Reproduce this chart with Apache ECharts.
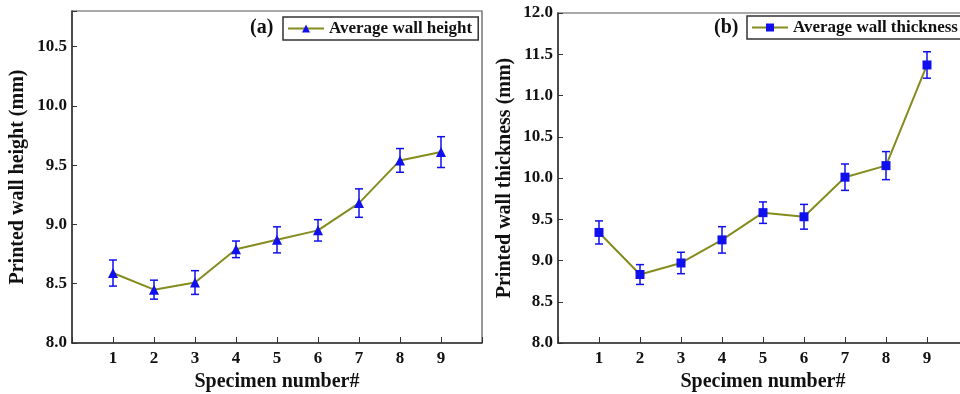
<!DOCTYPE html>
<html>
<head>
<meta charset="utf-8">
<style>
  html, body { margin: 0; padding: 0; background: #fff; }
  #chart { width: 960px; height: 394px; }
</style>
<script src="https://cdn.jsdelivr.net/npm/echarts@6/dist/echarts.min.js"></script>
</head>
<body>
<div id="chart"></div>
<script>
// specimen numbers and measured values (mean, +/- error)
const specimens = [1, 2, 3, 4, 5, 6, 7, 8, 9];
const heightMean = [8.59, 8.45, 8.51, 8.79, 8.87, 8.95, 9.18, 9.54, 9.61];
const heightErr = [0.11, 0.08, 0.10, 0.07, 0.11, 0.09, 0.12, 0.10, 0.13];
const thickMean = [9.34, 8.83, 8.97, 9.25, 9.58, 9.53, 10.01, 10.15, 11.37];
const thickErr = [0.14, 0.12, 0.13, 0.16, 0.13, 0.15, 0.16, 0.17, 0.16];

const FONT = "'Liberation Serif', 'Times New Roman', serif";
const LINE_COLOR = '#848c1e';
const MARK_COLOR = '#1010ee';

const chart = echarts.init(document.getElementById('chart'));

function errorBar(params, api) {
  const x = api.value(0);
  const top = api.coord([x, api.value(2)]);
  const bot = api.coord([x, api.value(1)]);
  const w = 4;
  const style = { stroke: MARK_COLOR, lineWidth: 1.5 };
  return {
    type: 'group',
    children: [
      { type: 'line', shape: { x1: top[0], y1: top[1], x2: bot[0], y2: bot[1] }, style },
      { type: 'line', shape: { x1: top[0] - w, y1: top[1], x2: top[0] + w, y2: top[1] }, style },
      { type: 'line', shape: { x1: bot[0] - w, y1: bot[1], x2: bot[0] + w, y2: bot[1] }, style }
    ]
  };
}

const fmtY = v => Math.abs(v * 2 - Math.round(v * 2)) < 1e-6 ? v.toFixed(1) : '';
const fmtX = v => (v >= 1 && v <= 9) ? String(v) : '';

function xAxis(idx) {
  return {
    type: 'value', gridIndex: idx, min: 0, max: 10, interval: 1,
    name: 'Specimen number#', nameLocation: 'middle', nameGap: 26,
    nameTextStyle: { fontFamily: FONT, fontWeight: 'bold', fontSize: 20, color: '#111' },
    axisLine: { lineStyle: { color: '#333', width: 1.5 } },
    axisTick: { inside: true, length: 6, lineStyle: { color: '#333' } },
    axisLabel: { formatter: fmtX, margin: 7, fontFamily: FONT, fontWeight: 'bold', fontSize: 17, color: '#111' },
    splitLine: { show: false }
  };
}

function yAxis(idx, name, min, max, gap) {
  return {
    type: 'value', gridIndex: idx, min, max, interval: 0.5,
    name, nameLocation: 'middle', nameGap: gap,
    nameTextStyle: { fontFamily: FONT, fontWeight: 'bold', fontSize: 20, color: '#111' },
    axisLine: { lineStyle: { color: '#333', width: 1.5 } },
    axisTick: { inside: true, length: 5, lineStyle: { color: '#333' } },
    axisLabel: { formatter: fmtY, margin: 5, fontFamily: FONT, fontWeight: 'bold', fontSize: 17, color: '#111' },
    splitLine: { show: false }
  };
}

const legendBase = {
  orient: 'horizontal', itemWidth: 36, itemHeight: 10, itemGap: 5,
  borderColor: '#333', borderWidth: 1.5, borderRadius: 0, padding: [3, 6, 3, 4],
  textStyle: { fontFamily: FONT, fontWeight: 'bold', fontSize: 17, color: '#111' }
};

chart.setOption({
  animation: false,
  title: [
    { text: '(a)', left: 250, top: 18, padding: 0,
      textStyle: { fontFamily: FONT, fontWeight: 'bold', fontSize: 20, color: '#111' } },
    { text: '(b)', left: 714, top: 18, padding: 0,
      textStyle: { fontFamily: FONT, fontWeight: 'bold', fontSize: 20, color: '#111' } }
  ],
  legend: [
    Object.assign({ data: ['Average wall height'], left: 283, top: 17 }, legendBase),
    Object.assign({ data: ['Average wall thickness'], left: 747, top: 16 }, legendBase)
  ],
  grid: [
    { left: 72, top: 11, width: 410, bottom: 51, show: true, borderColor: '#555', borderWidth: 1.2,
      outerBoundsMode: 'none' },
    { left: 558, top: 13, width: 410, bottom: 51, show: true, borderColor: '#555', borderWidth: 1.2,
      outerBoundsMode: 'none' }
  ],
  xAxis: [xAxis(0), xAxis(1)],
  yAxis: [
    yAxis(0, 'Printed wall height (mm)', 8.0, 10.8, 44),
    yAxis(1, 'Printed wall thickness (mm)', 8.0, 12.0, 43)
  ],
  series: [
    {
      name: 'Average wall height', type: 'line', xAxisIndex: 0, yAxisIndex: 0,
      data: specimens.map((s, i) => [s, heightMean[i]]),
      symbol: 'triangle', symbolSize: 10, z: 3,
      lineStyle: { color: LINE_COLOR, width: 2 },
      itemStyle: { color: MARK_COLOR }
    },
    {
      type: 'custom', xAxisIndex: 0, yAxisIndex: 0, renderItem: errorBar, z: 4,
      data: specimens.map((s, i) => [s, heightMean[i] - heightErr[i], heightMean[i] + heightErr[i]])
    },
    {
      name: 'Average wall thickness', type: 'line', xAxisIndex: 1, yAxisIndex: 1,
      data: specimens.map((s, i) => [s, thickMean[i]]),
      symbol: 'rect', symbolSize: 9, z: 3,
      lineStyle: { color: LINE_COLOR, width: 2 },
      itemStyle: { color: MARK_COLOR }
    },
    {
      type: 'custom', xAxisIndex: 1, yAxisIndex: 1, renderItem: errorBar, z: 4,
      data: specimens.map((s, i) => [s, thickMean[i] - thickErr[i], thickMean[i] + thickErr[i]])
    }
  ]
});
</script>
</body>
</html>
